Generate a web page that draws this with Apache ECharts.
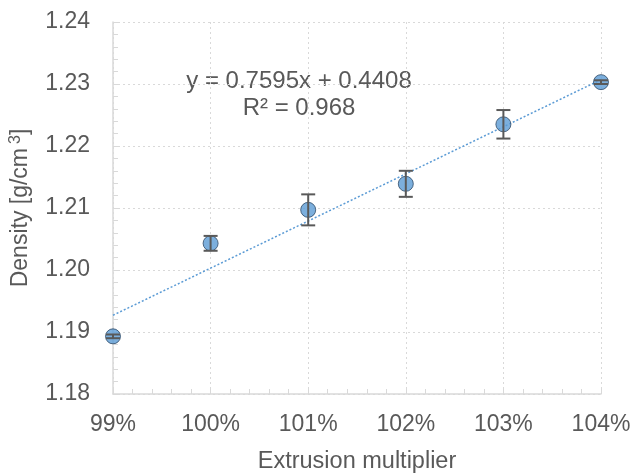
<!DOCTYPE html>
<html>
<head>
<meta charset="utf-8">
<script src="https://cdn.jsdelivr.net/npm/echarts@6/dist/echarts.min.js"></script>
<style>
html,body{margin:0;padding:0;background:#fff;}
#c{width:633px;height:475px;}
</style>
</head>
<body>
<div id="c"></div>
<script>
var extrusion = [99, 100, 101, 102, 103, 104];
var density = [1.1893, 1.2043, 1.2097, 1.2139, 1.2235, 1.2303];
var densityErr = [0.0003, 0.0012, 0.0025, 0.0021, 0.0023, 0.0003];
var trendX = [99, 104];
var trendY = [1.1927, 1.2307];
var yTicks = [1.18, 1.19, 1.20, 1.21, 1.22, 1.23, 1.24];
var eqLine1 = 'y = 0.7595x + 0.4408';
var eqLine2 = 'R\u00b2 = 0.968';

var FONT = 'Liberation Sans';
var TXT = '#595959';

var pts = extrusion.map(function (x, i) { return [x, density[i]]; });
var errData = extrusion.map(function (x, i) { return [x, density[i] - densityErr[i], density[i] + densityErr[i]]; });
var trend = trendX.map(function (x, i) { return [x, trendY[i]]; });

var chart = echarts.init(document.getElementById('c'));
chart.setOption({
  animation: false,
  backgroundColor: '#fff',
  grid: { left: 113, right: 32, top: 22, bottom: 81, containLabel: false, outerBoundsMode: 'none' },
  xAxis: {
    type: 'value',
    min: extrusion[0], max: extrusion[extrusion.length - 1], interval: 1,
    name: 'Extrusion multiplier',
    nameLocation: 'middle', nameGap: 56,
    nameTextStyle: { fontFamily: FONT, fontSize: 23.5, color: TXT },
    axisLine: { show: true, lineStyle: { color: '#D9D9D9', width: 1.5 } },
    axisTick: { show: true, inside: true, length: 5, lineStyle: { color: '#D9D9D9' } },
    minorTick: { show: true, splitNumber: 5, length: 5, lineStyle: { color: '#D9D9D9' } },
    axisLabel: { fontFamily: FONT, fontSize: 23, color: TXT, margin: 19,
      formatter: function (v) { return Math.round(v) + '%'; } },
    splitLine: { show: true, lineStyle: { color: '#D9D9D9', type: [2, 3], width: 1 } }
  },
  yAxis: {
    type: 'value',
    min: yTicks[0], max: yTicks[yTicks.length - 1], interval: 0.01,
    name: 'Density [g/cm{sup|3}]',
    nameLocation: 'middle', nameGap: 79, nameRotate: 90,
    nameTextStyle: { fontFamily: FONT, fontSize: 23, color: TXT,
      rich: { sup: { fontFamily: FONT, fontSize: 16, color: TXT, verticalAlign: 'top', padding: [0, 0, 10, 4] } } },
    axisLine: { show: true, lineStyle: { color: '#D9D9D9', width: 1.5 } },
    axisTick: { show: true, inside: true, length: 5, lineStyle: { color: '#D9D9D9' } },
    minorTick: { show: true, splitNumber: 5, length: 5, lineStyle: { color: '#D9D9D9' } },
    axisLabel: { fontFamily: FONT, fontSize: 23, color: TXT, margin: 23,
      formatter: function (v) { return v.toFixed(2); } },
    splitLine: { show: true, lineStyle: { color: '#D9D9D9', type: [2, 3], width: 1 } }
  },
  series: [
    {
      type: 'line',
      data: trend,
      showSymbol: false,
      symbol: 'none',
      lineStyle: { color: '#5B9BD5', width: 1.5, type: [2, 2] },
      z: 2
    },
    {
      type: 'scatter',
      data: pts,
      symbol: 'circle',
      symbolSize: 15,
      itemStyle: { color: '#5B9BD5', borderColor: '#2E4A66', borderWidth: 1 },
      z: 3
    },
    {
      type: 'custom',
      data: errData,
      z: 4,
      renderItem: function (params, api) {
        var x = api.value(0);
        var lo = api.coord([x, api.value(1)]);
        var hi = api.coord([x, api.value(2)]);
        var hw = 7;
        var st = { stroke: '#595959', lineWidth: 2 };
        return {
          type: 'group',
          children: [
            { type: 'line', shape: { x1: lo[0], y1: lo[1], x2: hi[0], y2: hi[1] }, style: st },
            { type: 'line', shape: { x1: lo[0] - hw, y1: lo[1], x2: lo[0] + hw, y2: lo[1] }, style: st },
            { type: 'line', shape: { x1: hi[0] - hw, y1: hi[1], x2: hi[0] + hw, y2: hi[1] }, style: st }
          ]
        };
      }
    }
  ],
  graphic: [
    { type: 'text', x: 299, y: 81,
      style: { text: eqLine1, fontFamily: FONT, fontSize: 24, fill: TXT, textAlign: 'center', textVerticalAlign: 'middle' } },
    { type: 'text', x: 299, y: 108,
      style: { text: eqLine2, fontFamily: FONT, fontSize: 24, fill: TXT, textAlign: 'center', textVerticalAlign: 'middle' } }
  ]
});
</script>
</body>
</html>
